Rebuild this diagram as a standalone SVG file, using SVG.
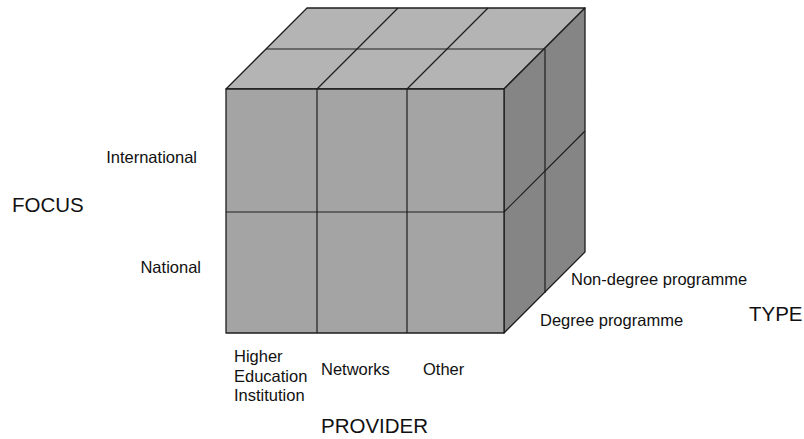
<svg xmlns="http://www.w3.org/2000/svg" width="804" height="439" viewBox="0 0 804 439">
  <style>
    .face { stroke: #1e1e1e; stroke-width: 1.3; stroke-linejoin: round; }
    .top { fill: #b4b4b4; }
    .front { fill: #a4a4a4; }
    .side { fill: #858585; }
    .grid { stroke: #1e1e1e; stroke-width: 1.2; fill: none; }
    text { font-family: "Liberation Sans", Arial, sans-serif; fill: #111; }
    .lbl { font-size: 16.5px; }
    .axis { font-size: 20.5px; }
  </style>
  <rect width="804" height="439" fill="#ffffff"/>

  <!-- 3x2x2 cube: provider x focus x type -->
  <g id="cube">
    <polygon class="face top" points="226,89 504,89 585,8 307,8"/>
    <polygon class="face side" points="504,89 585,8 585,252 504,333"/>
    <rect class="face front" x="226" y="89" width="278" height="244"/>
  </g>

  <g id="cube-grid">
    <!-- top face divisions -->
    <line class="grid" x1="266" y1="49" x2="545" y2="49"/>
    <line class="grid" x1="317" y1="89" x2="398" y2="8"/>
    <line class="grid" x1="407" y1="89" x2="488" y2="8"/>
    <!-- front face divisions -->
    <line class="grid" x1="317" y1="89" x2="317" y2="333"/>
    <line class="grid" x1="407" y1="89" x2="407" y2="333"/>
    <line class="grid" x1="226" y1="212" x2="504" y2="212"/>
    <!-- side face divisions -->
    <line class="grid" x1="545" y1="49" x2="545" y2="293"/>
    <line class="grid" x1="504" y1="212" x2="585" y2="131"/>
  </g>

  <!-- focus axis -->
  <g id="focus">
    <text class="axis" x="12" y="212">FOCUS</text>
    <text class="lbl" x="197" y="163" text-anchor="end">International</text>
    <text class="lbl" x="201" y="273" text-anchor="end">National</text>
  </g>

  <!-- provider axis -->
  <g id="provider">
    <text class="lbl" x="234" y="362">Higher</text>
    <text class="lbl" x="234" y="382">Education</text>
    <text class="lbl" x="234" y="401">Institution</text>
    <text class="lbl" x="321" y="375">Networks</text>
    <text class="lbl" x="423" y="375">Other</text>
    <text class="axis" x="321" y="433">PROVIDER</text>
  </g>

  <!-- type axis -->
  <g id="type">
    <text class="lbl" x="571" y="285">Non-degree programme</text>
    <text class="lbl" x="540" y="326">Degree programme</text>
    <text class="axis" x="749" y="321">TYPE</text>
  </g>
</svg>
